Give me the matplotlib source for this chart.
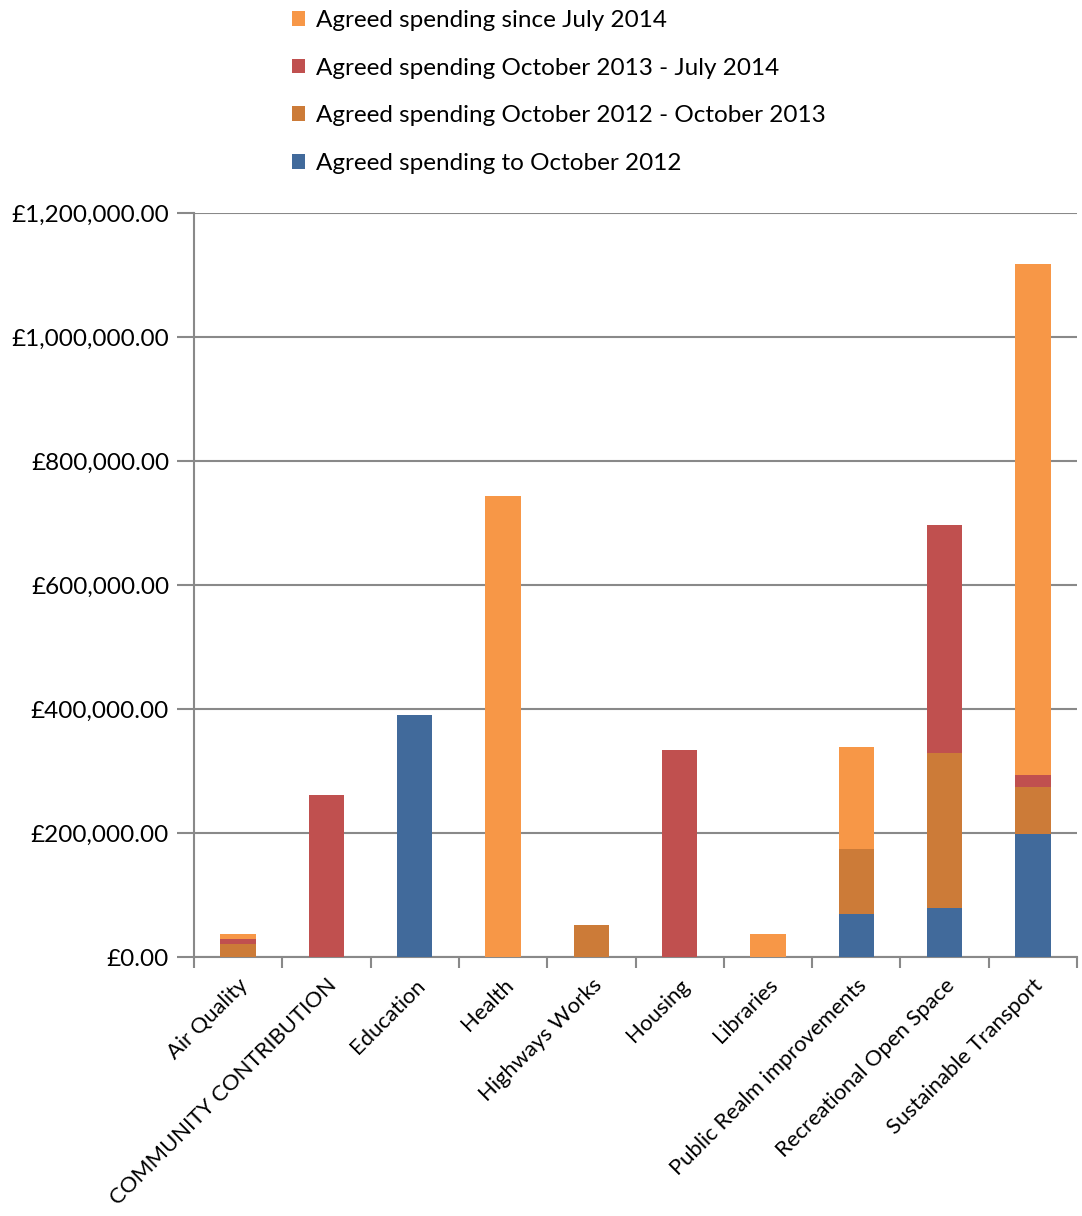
import matplotlib
matplotlib.use("Agg")
import matplotlib.pyplot as plt
import matplotlib.ticker as ticker
import numpy as np

categories = [
    "Air Quality", "COMMUNITY CONTRIBUTION", "Education", "Health",
    "Highways Works", "Housing", "Libraries", "Public Realm improvements",
    "Recreational Open Space", "Sustainable Transport",
]

# Spending per period, in pounds (stacked bottom to top).
to_oct_2012 = [0, 0, 390000, 0, 0, 0, 0, 69000, 79500, 198000]
oct_2012_oct_2013 = [21000, 0, 0, 0, 51500, 0, 0, 105000, 249500, 76000]
oct_2013_jul_2014 = [8000, 261000, 0, 0, 0, 334000, 0, 0, 368000, 20000]
since_jul_2014 = [8500, 0, 0, 743500, 0, 0, 37000, 165000, 0, 824000]

series = [
    ("Agreed spending to October 2012", to_oct_2012, "#416A9B"),
    ("Agreed spending October 2012 - October 2013", oct_2012_oct_2013, "#CC7B38"),
    ("Agreed spending October 2013 - July 2014", oct_2013_jul_2014, "#C0504F"),
    ("Agreed spending since July 2014", since_jul_2014, "#F79747"),
]

plt.rcParams["font.family"] = ["Lato", "DejaVu Sans"]
FS = 17.5

fig = plt.figure(figsize=(10.82, 12.16), dpi=100)
ax = fig.add_axes([194 / 1082, 1 - 957 / 1216, (1077 - 194) / 1082, (957 - 213) / 1216])

x = np.arange(len(categories))
bottom = np.zeros(len(categories))
handles = []
for label, vals, colour in series:
    vals = np.array(vals, dtype=float)
    h = ax.bar(x, vals, bottom=bottom, width=0.4, color=colour,
               edgecolor="none", label=label, zorder=3)
    handles.append(h)
    bottom += vals

grey = "#898989"
ax.set_xlim(-0.5, len(categories) - 0.5)
ax.set_ylim(0, 1200000)
ax.yaxis.set_major_locator(ticker.MultipleLocator(200000))
ax.yaxis.set_major_formatter(ticker.FuncFormatter(lambda v, p: f"£{v:,.2f}"))
ax.grid(axis="y", color=grey, linewidth=1.5, zorder=0)
for side in ("top", "right"):
    ax.spines[side].set_visible(False)
for side in ("left", "bottom"):
    ax.spines[side].set_color(grey)
    ax.spines[side].set_linewidth(1.5)

ax.tick_params(axis="y", length=12, width=1.5, color=grey, labelsize=FS, pad=6)
ax.set_xticks(np.arange(len(categories) + 1) - 0.5, minor=True)
ax.tick_params(axis="x", which="minor", length=8, width=1.5, color=grey)
ax.set_xticks(x)
ax.set_xticklabels(categories, rotation=45, ha="right", rotation_mode="anchor",
                   fontsize=15.8)
ax.tick_params(axis="x", which="major", length=0, pad=13)

fig.legend(handles[::-1], [s[0] for s in series][::-1],
           loc="upper left", bbox_to_anchor=(270 / 1082, 1 + 12 / 1216),
           frameon=False, fontsize=FS, handlelength=0.55, handleheight=0.55,
           handletextpad=0.45, labelspacing=1.1)

fig.savefig("out.png", dpi=100)
